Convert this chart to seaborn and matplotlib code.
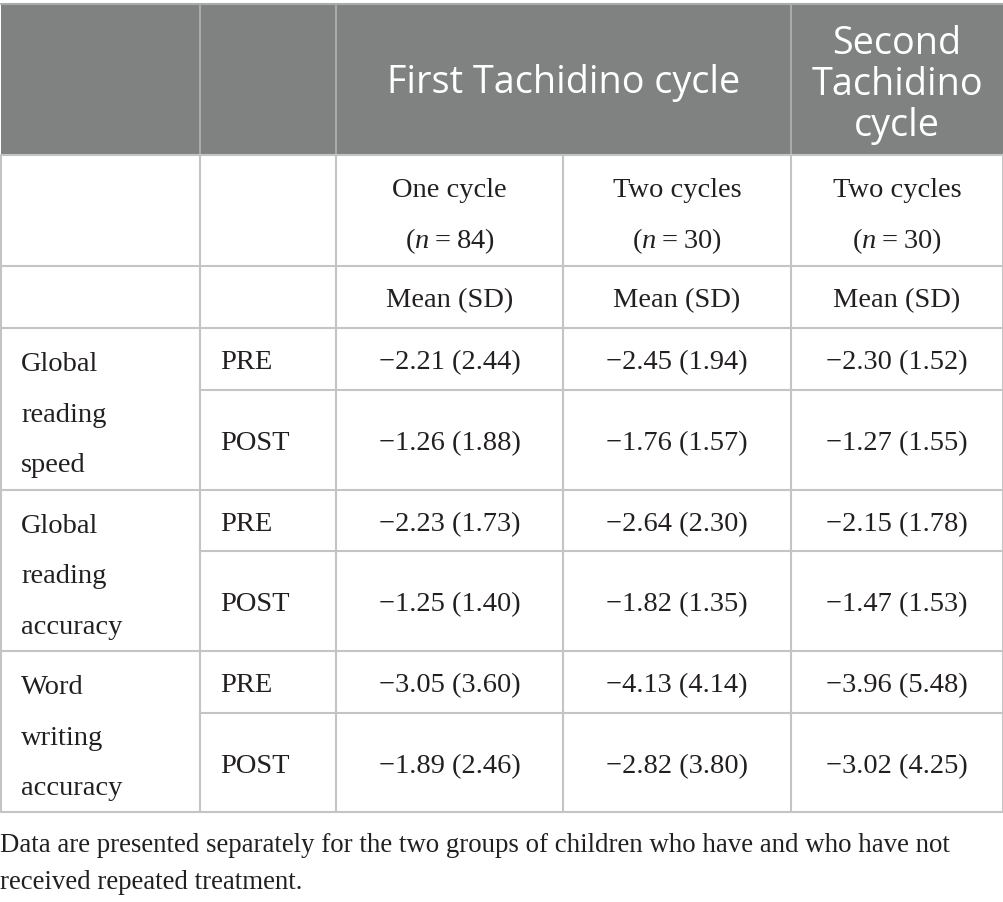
import numpy as np
import pandas as pd
import seaborn as sns
import matplotlib.pyplot as plt
from matplotlib.patches import Rectangle

#------------------------------------------------------------------------------------------------------------------------
# DATA
measures = [["Global", "reading", "speed"],
            ["Global", "reading", "accuracy"],
            ["Word", "writing", "accuracy"]]
phases = ["PRE", "POST"]

group_titles = ["One cycle", "Two cycles", "Two cycles"]
group_n = [84, 30, 30]

# rows: speed PRE, speed POST, accuracy PRE, accuracy POST, writing PRE, writing POST
mean_one_first = [-2.21, -1.26, -2.23, -1.25, -3.05, -1.89]
sd_one_first = [2.44, 1.88, 1.73, 1.40, 3.60, 2.46]
mean_two_first = [-2.45, -1.76, -2.64, -1.82, -4.13, -2.82]
sd_two_first = [1.94, 1.57, 2.30, 1.35, 4.14, 3.80]
mean_two_second = [-2.30, -1.27, -2.15, -1.47, -3.96, -3.02]
sd_two_second = [1.52, 1.55, 1.78, 1.53, 5.48, 4.25]

footnote = ["Data are presented separately for the two groups of children who have and who have not",
            "received repeated treatment."]

#------------------------------------------------------------------------------------------------------------------------
# LAYOUT
sns.set_theme(style="white")
plt.rcParams['font.family'] = ['Liberation Serif', 'DejaVu Serif']
plt.rcParams['mathtext.fontset'] = 'custom'
plt.rcParams['mathtext.it'] = 'Liberation Serif:italic'
plt.rcParams['mathtext.rm'] = 'Liberation Serif'
plt.rcParams['text.color'] = '#231f20'

HEAD_GRAY = "#7f8280"
HEAD_LINE = "#a9aaa9"
BODY_LINE = "#c4c4c4"
BODY_FS = 20.5
HEAD_FS = 27.2

col_x = [1, 200, 336, 563, 791, 1003]
row_y = [5, 156, 267, 329, 391, 491, 552, 652, 714, 813]

fig = plt.figure(figsize=(10.04, 9.03), dpi=100)
ax = fig.add_axes([0, 0, 1, 1])
ax.set_xlim(0, 1004)
ax.set_ylim(903, 0)
ax.axis('off')


def fmt(m, s):
    return f"\u2212{abs(m):.2f} ({s:.2f})"


def line_text(x, yc, s, ha='center', fs=BODY_FS, **kw):
    # yc is the visual centre of the line, text is placed on its baseline
    ax.text(x, yc + fs * 0.45, s, ha=ha, va='baseline', fontsize=fs, **kw)


# header band
ax.add_patch(Rectangle((col_x[0], row_y[0]), col_x[-1] - col_x[0], row_y[1] - row_y[0],
                       facecolor=HEAD_GRAY, edgecolor='none', zorder=1))
for x in [col_x[1], col_x[2], col_x[4]]:
    ax.plot([x, x], [row_y[0], row_y[1]], color=HEAD_LINE, lw=1.5, zorder=2)
ax.plot([col_x[0], col_x[-1]], [row_y[0], row_y[0]], color=HEAD_LINE, lw=1.5, zorder=2)

head_font = dict(color='white', family=['Open Sans', 'DejaVu Sans'])
line_text((col_x[2] + col_x[4]) / 2, 81, "First Tachidino cycle", fs=HEAD_FS, **head_font)
for k, s in enumerate(["Second", "Tachidino", "cycle"]):
    line_text((col_x[4] + col_x[5]) / 2, 42 + k * 41, s, fs=HEAD_FS, **head_font)

# body grid
full_rows = [row_y[1], row_y[2], row_y[3], row_y[5], row_y[7], row_y[9]]
part_rows = [row_y[4], row_y[6], row_y[8]]
for y in full_rows:
    ax.plot([col_x[0], col_x[-1]], [y, y], color=BODY_LINE, lw=1.5, zorder=2)
for y in part_rows:
    ax.plot([col_x[1], col_x[-1]], [y, y], color=BODY_LINE, lw=1.5, zorder=2)
for x in col_x:
    ax.plot([x, x], [row_y[1], row_y[-1]], color=BODY_LINE, lw=1.5, zorder=2)

# sub headers
data_cols = [(col_x[i] + col_x[i + 1]) / 2 for i in range(2, 5)]
for cx, title, n in zip(data_cols, group_titles, group_n):
    line_text(cx, 188, title)
    line_text(cx, 239, r"($\mathit{n}$" + "\u2009=\u2009" + f"{n})")
    line_text(cx, 298, "Mean (SD)")

# body rows
columns = [(mean_one_first, sd_one_first),
           (mean_two_first, sd_two_first),
           (mean_two_second, sd_two_second)]
for g, words in enumerate(measures):
    pre_mid = (row_y[3 + 2 * g] + row_y[4 + 2 * g]) / 2
    for k, w in enumerate(words):
        line_text(col_x[0] + 20, pre_mid + 2 + k * 50.5, w, ha='left')
    for p, phase in enumerate(phases):
        r = 2 * g + p
        mid = (row_y[3 + r] + row_y[4 + r]) / 2
        line_text(col_x[1] + 20, mid, phase, ha='left')
        for cx, (means, sds) in zip(data_cols, columns):
            line_text(cx, mid, fmt(means[r], sds[r]))

# footnote
for k, s in enumerate(footnote):
    line_text(0, 843 + k * 37, s, ha='left', fs=19.4)

fig.savefig("out.png", dpi=100)
